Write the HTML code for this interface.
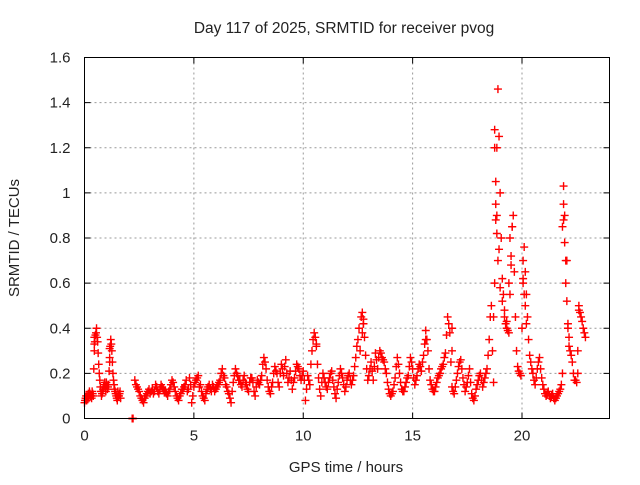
<!DOCTYPE html>
<html><head><meta charset="utf-8"><style>
html,body{margin:0;padding:0;background:#fff;}
svg text{font-family:"Liberation Sans",sans-serif;fill:#222;}
</style></head><body>
<svg id="chart" width="640" height="480" viewBox="0 0 640 480" xmlns="http://www.w3.org/2000/svg">
<rect x="0" y="0" width="640" height="480" fill="#fff"/>
<text x="344" y="33" font-size="15.5" text-anchor="middle">Day 117 of 2025, SRMTID for receiver pvog</text>
<text x="346" y="472" font-size="15" text-anchor="middle">GPS time / hours</text>
<text transform="translate(19,238) rotate(-90)" font-size="15" text-anchor="middle">SRMTID / TECUs</text>
<g id="grid"></g><g id="ticks"></g><g id="marks"></g>
<rect x="84.5" y="57.5" width="525" height="361" fill="none" stroke="#000" stroke-width="1"/>
</svg>
<script>
const xTicks=[0,5,10,15,20];
const yTicks=[0,0.2,0.4,0.6,0.8,1,1.2,1.4,1.6];
const yTickLabels=["0","0.2","0.4","0.6","0.8","1","1.2","1.4","1.6"];
const seg1Start=0.0, seg1Step=0.05;
const seg1Values=[0.07,0.09,0.08,0.10,0.09,0.11,0.10,0.12,0.10,0.30,0.37,0.40,0.34,0.24,0.17,0.12,0.11,0.13,0.15,0.14,0.16,0.13,0.15,0.27,0.35,0.30,0.20,0.15,0.12,0.10,0.08,0.10,0.11,0.09];
const seg1bStart=0.025;
const seg1bValues=[0.08,0.10,0.09,0.11,0.12,0.10,0.09,0.11,0.22,0.34,0.38,0.36,0.29,0.20,0.14,0.10,0.12,0.14,0.16,0.12,0.15,0.14,0.21,0.32,0.33,0.25,0.17,0.13,0.11,0.09,0.12,0.10,0.12];
const zeroTimes=[2.18,2.2,2.22];
const zeroValues=[0,0,0];
const seg2Start=2.3, seg2Step=0.1;
const seg2Values=[
0.17,0.14,0.12,0.09,0.07,0.10,0.12,0.11,
0.13,0.12,0.14,0.11,0.15,0.13,0.12,0.10,0.13,0.17,
0.14,0.10,0.08,0.11,0.13,0.15,0.12,0.18,0.07,0.14,
0.17,0.19,0.15,0.10,0.08,0.13,0.15,0.12,0.14,0.13,
0.15,0.17,0.22,0.18,0.14,0.11,0.07,0.16,0.22,0.19,
0.17,0.14,0.19,0.15,0.12,0.18,0.16,0.10,0.17,0.15,
0.19,0.27,0.22,0.14,0.11,0.16,0.23,0.20,0.14,0.24,
0.19,0.26,0.16,0.21,0.13,0.18,0.24,0.22,0.17,0.21,
0.08,0.19,0.15,0.30,0.38,0.33,0.18,0.10,0.20,0.16,
0.13,0.18,0.21,0.14,0.09,0.16,0.22,0.18,0.12,0.17,
0.20,0.15,0.19,0.27,0.35,0.30,0.47,0.36,0.22,0.19,
0.25,0.17,0.29,0.22,0.30,0.27,0.25,0.20,0.13,0.10,
0.12,0.18,0.27,0.20,0.13,0.12,0.16,0.19,0.27,0.22,
0.15,0.19,0.24,0.21,0.28,0.39,0.30,0.17,0.13,0.12,
0.16,0.19,0.22,0.24,0.29,0.45,0.38,0.14,0.11,0.17,
0.23,0.26,0.18,0.12,0.16,0.22,0.11,0.08,0.13,0.17,
0.20,0.14,0.18,0.22,0.35,0.50,0.16,0.88,1.46,1.00,
0.62,0.45,0.40,0.38,0.68,0.90,0.45,0.23,0.20,0.40,
0.76,0.55,0.35,0.25,0.20,0.15,0.22,0.27,0.18,0.13,
0.10,0.12,0.09,0.11,0.08,0.10,0.12,0.15,1.03,0.60,
0.42,0.30,0.25,0.17,0.16,0.48,0.45,0.40,0.36];
const seg2bStart=2.35;
const seg2bValues=[
0.15,0.13,0.10,0.08,0.09,0.11,0.13,0.12,
0.11,0.15,0.12,0.13,0.14,0.12,0.11,0.12,0.15,0.16,
0.12,0.09,0.10,0.13,0.14,0.17,0.13,0.15,0.10,0.16,
0.18,0.14,0.12,0.09,0.11,0.14,0.13,0.15,0.12,0.14,
0.16,0.20,0.19,0.15,0.12,0.09,0.12,0.19,0.20,0.17,
0.15,0.17,0.16,0.13,0.16,0.18,0.12,0.14,0.16,0.17,
0.24,0.25,0.17,0.12,0.14,0.20,0.21,0.16,0.20,0.22,
0.23,0.20,0.18,0.17,0.16,0.21,0.23,0.19,0.19,0.17,
0.13,0.17,0.24,0.35,0.36,0.24,0.13,0.16,0.18,0.14,
0.16,0.20,0.17,0.11,0.13,0.19,0.20,0.15,0.14,0.19,
0.17,0.17,0.23,0.32,0.40,0.45,0.42,0.28,0.17,0.22,
0.21,0.23,0.26,0.27,0.29,0.26,0.22,0.16,0.11,0.11,
0.15,0.23,0.24,0.16,0.12,0.14,0.18,0.23,0.25,0.18,
0.17,0.22,0.23,0.25,0.33,0.35,0.22,0.15,0.12,0.14,
0.18,0.20,0.23,0.27,0.37,0.42,0.25,0.12,0.14,0.20,
0.25,0.22,0.15,0.14,0.19,0.16,0.09,0.10,0.15,0.19,
0.17,0.16,0.20,0.28,0.45,0.30,0.60,1.20,1.25,0.80,
0.55,0.42,0.39,0.55,0.85,0.65,0.30,0.21,0.19,0.60,
0.65,0.45,0.28,0.22,0.17,0.18,0.25,0.22,0.15,0.11,
0.11,0.10,0.10,0.09,0.09,0.11,0.13,0.20,0.90,0.70,
0.36,0.28,0.20,0.17,0.30,0.47,0.43,0.38];
const spikeTimes=[0.45,0.45,1.15,1.15,12.75,12.75,16.8,16.8,18.75,18.75,18.8,18.8,18.85,18.85,18.9,19.45,19.5,19.55,20.05,20.05,20.1,21.9,21.9,21.95,22.0,22.05,22.6,18.7,18.95,19.0,19.1,19.2,19.3,19.4,20.15,20.2,21.85,22.1,22.15,22.55,12.7,15.6,10.6];
const spikeValues=[0.33,0.36,0.31,0.25,0.42,0.44,0.40,0.30,1.20,1.28,1.05,0.95,0.90,0.82,0.70,0.80,0.72,0.85,0.70,0.62,0.55,0.95,0.88,0.78,0.70,0.52,0.50,0.45,0.75,0.58,0.52,0.48,0.43,0.60,0.50,0.42,0.85,0.40,0.32,0.20,0.38,0.35,0.32];

const X0=84.5,X1=609.5,Y0=418.5,Y1=57.5,XMAX=24,YMAX=1.6;
const xs=v=>X0+(X1-X0)*v/XMAX;
const ys=v=>Y0-(Y0-Y1)*v/YMAX;
const NS="http://www.w3.org/2000/svg";
const grid=document.getElementById('grid'),ticks=document.getElementById('ticks'),marks=document.getElementById('marks');
function mk(tag,attrs,parent){const e=document.createElementNS(NS,tag);for(const k in attrs)e.setAttribute(k,attrs[k]);parent.appendChild(e);return e;}
xTicks.forEach(t=>{
  const x=xs(t);
  if(t>0){const g=mk('line',{x1:x,y1:Y1,x2:x,y2:Y0,stroke:'#999','stroke-dasharray':'2,3'},grid);
  
  }
  mk('line',{x1:x,y1:Y0,x2:x,y2:Y0-6,stroke:'#000'},ticks);
  mk('line',{x1:x,y1:Y1,x2:x,y2:Y1+6,stroke:'#000'},ticks);
  const l=mk('text',{x:x,y:Y0+22,'font-size':15,'text-anchor':'middle'},ticks);l.textContent=t;
  
  
});
yTicks.forEach((t,i)=>{
  const y=ys(t);
  if(t>0&&t<YMAX){const g=mk('line',{x1:X0,y1:y,x2:X1,y2:y,stroke:'#999','stroke-dasharray':'2,3'},grid);
  
  }
  mk('line',{x1:X0,y1:y,x2:X0+6,y2:y,stroke:'#000'},ticks);
  mk('line',{x1:X1,y1:y,x2:X1-6,y2:y,stroke:'#000'},ticks);
  const l=mk('text',{x:X0-14,y:y+5,'font-size':15,'text-anchor':'end'},ticks);l.textContent=yTickLabels[i];
  
  
});
function plus(t,v){
  const x=xs(t),y=ys(v);
  const p=mk('path',{d:`M${x-4},${y}H${x+4}M${x},${y-4}V${y+4}`,stroke:'#f00','stroke-width':1.4,fill:'none'},marks);
  
  
}
seg1Values.forEach((v,i)=>plus(seg1Start+i*seg1Step,v));
seg1bValues.forEach((v,i)=>plus(seg1bStart+i*seg1Step,v));
zeroTimes.forEach((t,i)=>plus(t,zeroValues[i]));
seg2Values.forEach((v,i)=>plus(seg2Start+i*seg2Step,v));
seg2bValues.forEach((v,i)=>plus(seg2bStart+i*seg2Step,v));
spikeTimes.forEach((t,i)=>plus(t,spikeValues[i]));
</script>
</body></html>
